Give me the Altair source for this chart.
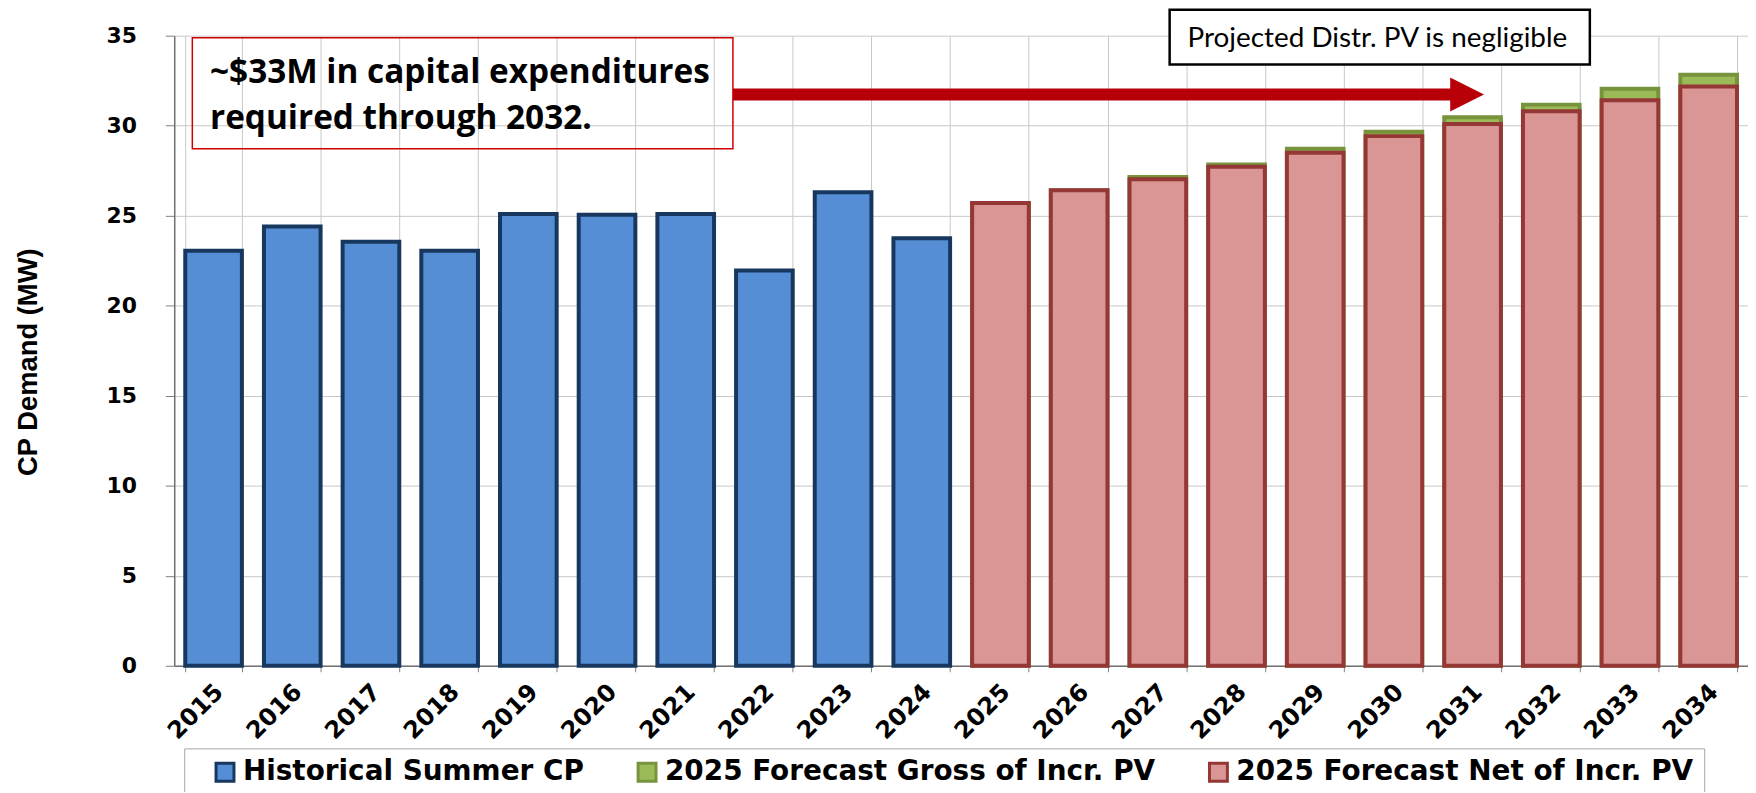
import altair as alt
import pandas as pd

# ---------------- data ----------------
years = [str(y) for y in range(2015, 2035)]
hist_years = years[:10]
fc_years = years[10:]
historical = [23.05, 24.4, 23.55, 23.05, 25.1, 25.05, 25.1, 21.95, 26.3, 23.75]
forecast_net = [25.7, 26.41, 27.02, 27.72, 28.5, 29.42, 30.1, 30.8, 31.41, 32.18]
forecast_gross = [25.7, 26.41, 27.15, 27.85, 28.72, 29.66, 30.47, 31.17, 32.05, 32.83]

series_names = ["Historical Summer CP", "2025 Forecast Gross of Incr. PV", "2025 Forecast Net of Incr. PV"]
fill_colors = ["#558ED5", "#9BBB59", "#D99694"]
stroke_colors = ["#17375E", "#77933C", "#953735"]
y_ticks = [0, 5, 10, 15, 20, 25, 30, 35]

note_lines = ["~$33M in capital expenditures", "required through 2032."]
note_line_y = [32.38, 29.83]
note2_text = ["Projected Distr. PV is negligible"]

# ---------------- frames ----------------
df_hist = pd.DataFrame({"year": hist_years, "value": historical, "series": series_names[0]})
df_gross = pd.DataFrame({"year": fc_years, "value": forecast_gross, "series": series_names[1]})
df_net = pd.DataFrame({"year": fc_years, "value": forecast_net, "series": series_names[2]})

W, H = 1581, 633
FONT_AX = "DejaVu Sans"

x_enc = alt.X(
    "year:O",
    sort=years,
    scale=alt.Scale(domain=years, paddingInner=0.28, paddingOuter=0.14),
    axis=alt.Axis(
        title=None, labelAngle=-45, labelAlign="right", labelBaseline="top",
        labelFont=FONT_AX, labelFontWeight="bold", labelFontSize=24, labelColor="black",
        labelPadding=8, labelOffset=-3, labelOverlap=False, tickBand="extent", tickSize=6,
        tickColor="#808080", domainColor="#707070", domainWidth=1.5,
        grid=True, gridColor="#c8c8c8", gridWidth=1,
    ),
)
y_enc = alt.Y(
    "value:Q",
    scale=alt.Scale(domain=[0, 35], nice=False),
    axis=alt.Axis(
        values=y_ticks, title="CP Demand (MW)", titleFont="Liberation Sans",
        titleFontWeight="bold", titleFontSize=27.5, titleColor="black",
        titleX=-146, titleY=327.5, titleAlign="center", titleBaseline="middle", titleAngle=270,
        labelFont=FONT_AX, labelFontWeight="bold", labelFontSize=22, labelColor="black",
        labelPadding=29, tickSize=9, tickColor="#808080", domainColor="#707070", domainWidth=1.5,
        grid=True, gridColor="#c8c8c8", gridWidth=1,
    ),
)
legend = alt.Legend(
    title=" ", titleOrient="left", titleFontSize=8, titlePadding=17,
    orient="none", legendX=10, legendY=716, direction="horizontal",
    padding=10, strokeColor="#a6a6a6", fillColor="white",
    symbolType="square", symbolSize=324, symbolStrokeWidth=3, symbolOpacity=1,
    labelFont=FONT_AX, labelFontWeight="bold", labelFontSize=28, labelColor="black",
    labelOffset=4, labelLimit=700, columnPadding=48,
)
fill_enc = alt.Fill("series:N", scale=alt.Scale(domain=series_names, range=fill_colors), legend=legend)
stroke_enc = alt.Stroke("series:N", scale=alt.Scale(domain=series_names, range=stroke_colors), legend=legend)


def bars(df):
    return alt.Chart(df).mark_bar(strokeWidth=4, strokeJoin="miter", opacity=1).encode(
        x=x_enc, y=y_enc, fill=fill_enc, stroke=stroke_enc
    )


bar_layer = alt.layer(bars(df_hist), bars(df_gross), bars(df_net))

# ---------------- annotations (year units / MW units) ----------------
xa_scale = alt.Scale(domain=[2014.5, 2034.5], nice=False, zero=False)
ya_scale = alt.Scale(domain=[0, 35], nice=False)


def XA(f):
    return alt.X(f + ":Q", scale=xa_scale, axis=None)


def YA(f):
    return alt.Y(f + ":Q", scale=ya_scale, axis=None)


box1 = alt.Chart(pd.DataFrame({"x": [2014.73], "x2": [2021.6], "y": [28.72], "y2": [34.89]})).mark_rect(
    fillOpacity=0, stroke="#D00000", strokeWidth=1.5
).encode(x=XA("x"), x2="x2:Q", y=YA("y"), y2="y2:Q")

note1 = alt.Chart(pd.DataFrame({"x": [2014.955] * 2, "y": note_line_y, "t": note_lines})).mark_text(
    align="left", baseline="alphabetic", font="Open Sans", fontWeight="bold", fontSize=33.5, color="black"
).encode(x=XA("x"), y=YA("y"), text="t:N")

arrow_line = alt.Chart(pd.DataFrame({"x": [2021.6], "x2": [2030.75], "y": [31.73]})).mark_rule(
    color="#B80009", strokeWidth=12
).encode(x=XA("x"), x2="x2:Q", y=YA("y"))

arrow_head = alt.Chart(pd.DataFrame({"x": [2030.93], "y": [31.73]})).mark_point(
    shape="M-1,-1L1,0L-1,1Z", size=1156, filled=True, color="#B80009", opacity=1
).encode(x=XA("x"), y=YA("y"))

box2 = alt.Chart(pd.DataFrame({"x": [2027.15], "x2": [2032.49], "y": [33.4], "y2": [36.44]})).mark_rect(
    fill="white", stroke="black", strokeWidth=2.5
).encode(x=XA("x"), x2="x2:Q", y=YA("y"), y2="y2:Q")

note2 = alt.Chart(pd.DataFrame({"x": [2029.79], "y": [34.37], "t": note2_text})).mark_text(
    align="center", baseline="alphabetic", font="Lato", fontSize=28, color="black"
).encode(x=XA("x"), y=YA("y"), text="t:N")

annot_layer = alt.layer(box1, note1, arrow_line, arrow_head, box2, note2)

chart = (
    alt.layer(bar_layer, annot_layer)
    .resolve_scale(x="independent", y="independent")
    .properties(
        width=W, height=H,
        padding={"left": 167, "top": 26, "right": 0, "bottom": 125},
        autosize=alt.AutoSizeParams(type="none"),
        background="white",
    )
    .configure_view(strokeWidth=0)
)

chart.save("out.html", embed_options={"renderer": "svg", "actions": False})
